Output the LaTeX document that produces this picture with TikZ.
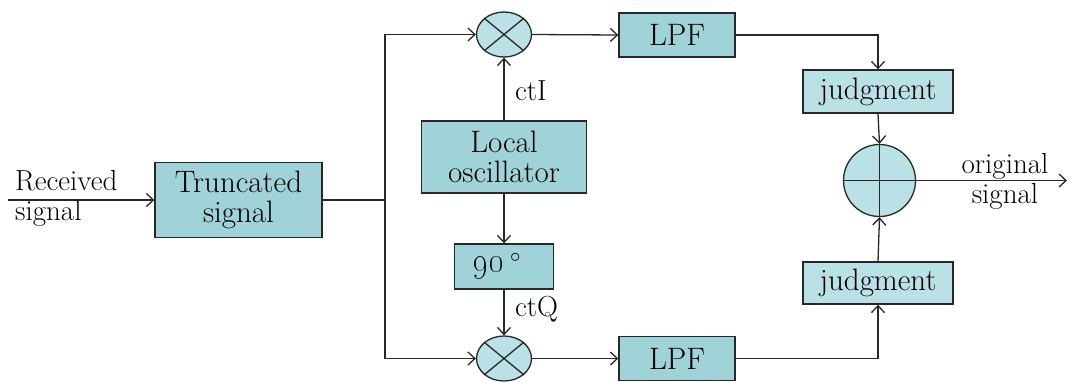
\documentclass[tikz,border=0pt]{standalone}
\usetikzlibrary{arrows.meta,shapes.geometric}
\definecolor{boxfill}{RGB}{160,211,216}
\definecolor{lightfill}{RGB}{186,225,229}
\definecolor{edge}{RGB}{40,40,40}
\tikzset{
  box/.style={draw=edge, line width=1.4pt, fill=boxfill, inner sep=0pt, align=center, font=\fontsize{31}{30}\selectfont},
  lbox/.style={box, fill=lightfill},
  mix/.style={ellipse, draw=edge, line width=1.3pt, fill=lightfill, minimum width=55pt, minimum height=45pt, inner sep=0pt},
  wire/.style={draw=edge, line width=1.3pt},
  arr/.style={wire, -{Straight Barb[length=7pt,width=13pt,line width=1.3pt]}},
  lab/.style={font=\fontsize{29}{30}\selectfont, align=left, inner sep=0pt}
}
\begin{document}
\begin{tikzpicture}[x=1pt,y=-1pt]
\useasboundingbox (0,0) rectangle (1073,381);
% nodes
\node[box, minimum width=167pt, minimum height=75pt] (trunc) at (238.5,200) {Truncated\\signal};
\node[mix] (m1) at (504,34.5) {};
\node[mix] (m2) at (504,358.5) {};
\node[box, minimum width=116pt, minimum height=44pt] (lpf1) at (677,35) {LPF};
\node[box, minimum width=116pt, minimum height=44pt] (lpf2) at (677,358.5) {LPF};
\node[box, minimum width=165pt, minimum height=72pt] (lo) at (504,157) {Local\\oscillator};
\node[box, minimum width=99pt, minimum height=45pt] (ph) at (504,266.5) {{\fontsize{38}{38}\selectfont\oldstylenums{90}}\,\raisebox{1pt}{$^\circ$}\hspace{14pt}};
\node[lbox, minimum width=150pt, minimum height=43pt] (j1) at (878,91.5) {judgment};
\node[lbox, minimum width=150pt, minimum height=42pt] (j2) at (878,283) {judgment};
\node[circle, draw=edge, line width=1.3pt, fill=lightfill, minimum size=72pt, inner sep=0pt] (add) at (879.5,180.5) {};
% crosses
\draw[wire] (m1.north east) -- (m1.south west) (m1.north west) -- (m1.south east);
\draw[wire] (m2.north east) -- (m2.south west) (m2.north west) -- (m2.south east);
\draw[wire] (add.north) -- (add.south) (add.west) -- (add.east);
% coordinates
\coordinate (in) at (8,200);
\coordinate (split) at (385,200);
\coordinate (out) at (1067,180.5);
% labels
\node[lab, anchor=west] (rx) at (15,198) {Received\\signal};
\node[lab, align=center] (og) at (1005,181) {original\\signal};
\node[lab, anchor=base west] (cti) at (515,100) {ctI};
\node[lab, anchor=base west] (ctq) at (515,316) {ctQ};
% connectors
\draw[arr] (in) -- (trunc.west);
\draw[wire] (trunc.east) -- (split);
\draw[arr] (split) |- (m1.west);
\draw[arr] (split) |- (m2.west);
\draw[arr] (m1.east) -- (lpf1.west);
\draw[arr] (m2.east) -- (lpf2.west);
\draw[arr] (lo.north) -- (m1.south);
\draw[arr] (lo.south) -- (ph.north);
\draw[arr] (ph.south) -- (m2.north);
\draw[arr] (lpf1.east) -| (j1.north);
\draw[arr] (lpf2.east) -| (j2.south);
\draw[arr] (j1.south) -- (add.north);
\draw[arr] (j2.north) -- (add.south);
\draw[arr] (add.east) -- (out);
\end{tikzpicture}
\end{document}
